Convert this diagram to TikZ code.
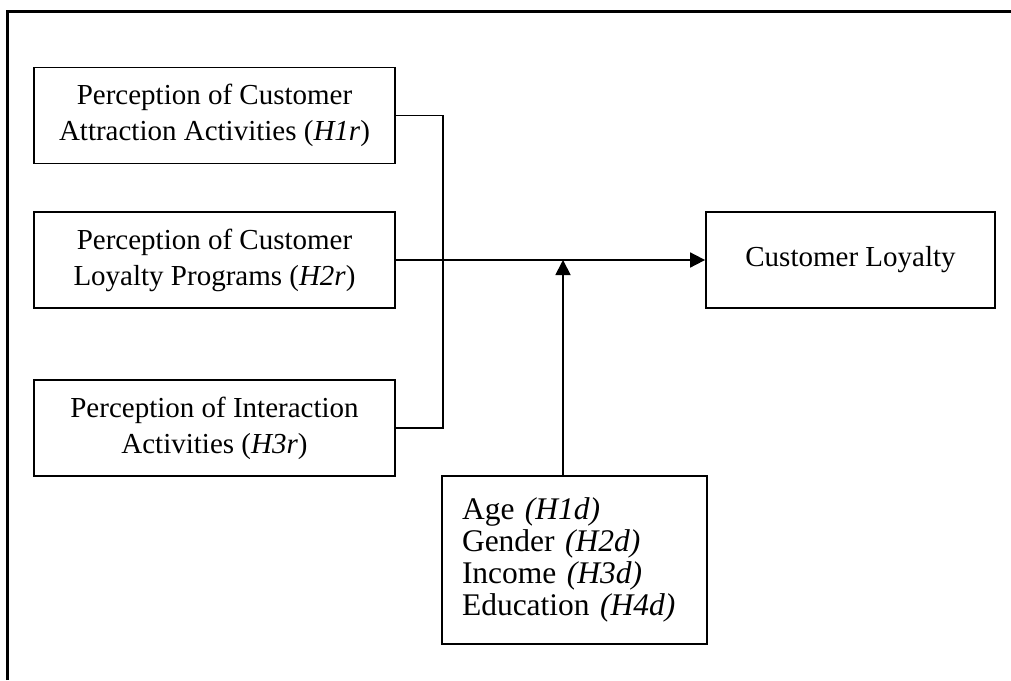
\documentclass[tikz,border=0pt]{standalone}
\usepackage{fontspec}
\setmainfont{Liberation Serif}
\usetikzlibrary{arrows.meta}

\tikzset{
  factor/.style={draw, line width=1.8pt, align=center, inner sep=0pt,
    minimum width=361pt, minimum height=96pt,
    font=\fontsize{29}{36}\selectfont},
  outcome/.style={draw, line width=1.8pt, inner sep=0pt,
    minimum width=289pt, minimum height=96pt,
    font=\fontsize{29}{36}\selectfont},
  moderator/.style={draw, line width=1.8pt, align=left, inner xsep=20pt, inner ysep=0pt,
    text width=225pt, minimum height=168pt,
    font=\fontsize{31.5}{32}\selectfont},
  link/.style={line width=1.8pt},
  arrowlink/.style={line width=1.8pt, -{Triangle[length=15pt,width=15pt]}},
}

\begin{document}
\begin{tikzpicture}[x=1pt, y=-1pt]
  \useasboundingbox (0,0) rectangle (1011,680);

  % open frame: top and left edges
  \draw[line width=3pt] (7,680) -- (7,11) -- (1011,11);

  % independent variables
  \node[factor] (attr) at (214.5,115.5) {Perception of Customer\\Attraction Activities (\textit{H1r})};
  \node[factor] (prog) at (214.5,260) {Perception of Customer\\Loyalty Programs (\textit{H2r})};
  \node[factor] (inter) at (214.5,428) {Perception of Interaction\\Activities (\textit{H3r})};

  % dependent variable
  \node[outcome] (loyal) at (850.5,260) {Customer Loyalty};

  % demographic moderators
  \node[moderator] (demo) at (574.5,560) {Age \textit{(H1d)}\\Gender \textit{(H2d)}\\Income \textit{(H3d)}\\Education \textit{(H4d)}};

  % junction points
  \coordinate (bus) at (443,260);
  \coordinate (mod) at (563,260);

  % connectors
  \draw[link] (attr.east) -| (bus) |- (inter.east);
  \draw[arrowlink] (prog.east) -- (loyal.west);
  \draw[arrowlink] (mod |- demo.north) -- (mod);
\end{tikzpicture}
\end{document}
